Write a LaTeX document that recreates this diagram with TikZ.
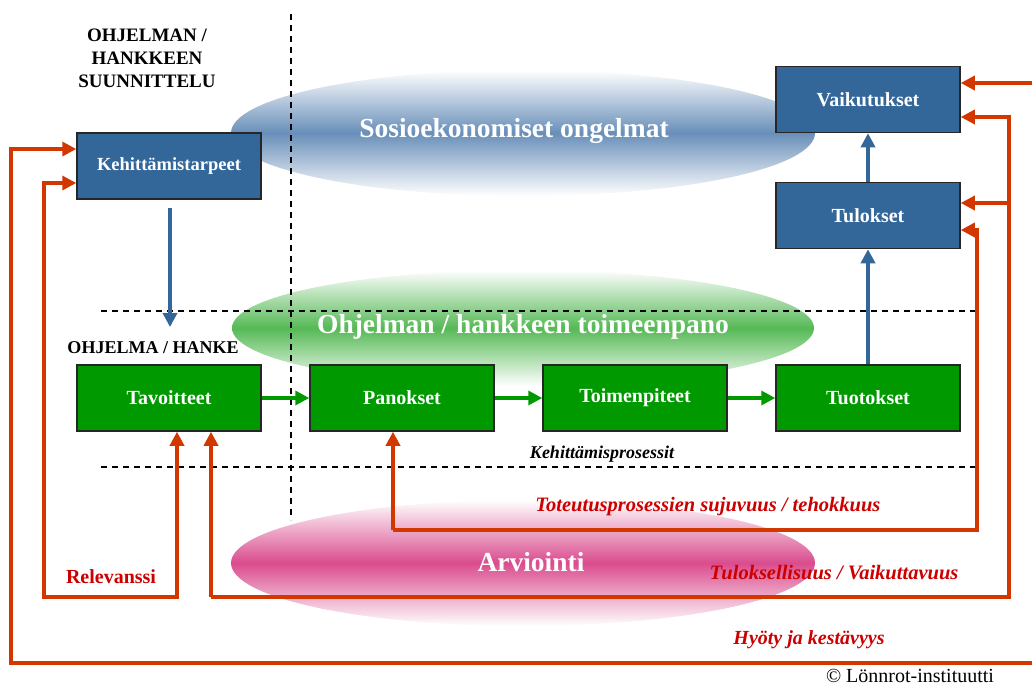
\documentclass[tikz,border=0pt]{standalone}
\usepackage{fontspec}
\setmainfont{Liberation Serif}
\usetikzlibrary{arrows.meta}
\definecolor{boxblue}{RGB}{51,102,153}
\definecolor{boxgreen}{RGB}{0,153,0}
\definecolor{linered}{RGB}{210,55,0}
\definecolor{textred}{RGB}{204,0,0}
\definecolor{ellblue}{RGB}{105,143,185}
\definecolor{ellgreen}{RGB}{85,185,85}
\definecolor{ellpink}{RGB}{218,76,142}
\tikzset{
  bluebox/.style={draw=black!85,line width=1.5pt,fill=boxblue,minimum width=184pt,minimum height=66pt,inner sep=0pt,text=white,font=\fontsize{20}{24}\selectfont\bfseries},
  greenbox/.style={bluebox,fill=boxgreen},
  bluearrow/.style={draw=boxblue,line width=3.4pt,-{Triangle[length=14pt,width=14pt]}},
  greenarrow/.style={draw=boxgreen,line width=3.4pt,-{Triangle[length=14pt,width=14pt]}},
  redarrow/.style={draw=linered,line width=3.4pt,-{Triangle[length=14pt,width=14pt]}},
  redboth/.style={draw=linered,line width=3.4pt,{Triangle[length=14pt,width=14pt]}-{Triangle[length=14pt,width=14pt]}},
  sepline/.style={draw=black,line width=1.4pt,dash pattern=on 6pt off 5pt},
  elltext/.style={text=white,font=\fontsize{27.5}{30}\selectfont\bfseries},
  redlabel/.style={text=textred,font=\fontsize{20.5}{23}\selectfont\bfseries\itshape},
  headlabel/.style={text=black,font=\fontsize{19}{23}\selectfont\bfseries,align=center},
}
\begin{document}
\begin{tikzpicture}[x=1pt,y=-1pt]
\useasboundingbox (0,0) rectangle (1032,686);
% ellipses
\shade[top color=white,bottom color=white,middle color=ellblue] (523,133) ellipse [x radius=292,y radius=63];
\shade[top color=white,bottom color=white,middle color=ellgreen] (523,328) ellipse [x radius=291,y radius=58];
\shade[top color=white,bottom color=white,middle color=ellpink] (523,563) ellipse [x radius=292,y radius=63];
\node[elltext] (socio) at (514,131) {Sosioekonomiset ongelmat};
\node[elltext] (toimeen) at (523,327) {Ohjelman / hankkeen toimeenpano};
\node[elltext] (arv) at (531,562) {Arviointi};
% separators
\coordinate (vtop) at (291,14);
\coordinate (vbot) at (291,520);
\draw[sepline] (vtop) -- (vbot);
\coordinate (h1a) at (101,311);
\coordinate (h1b) at (975,311);
\coordinate (h2a) at (101,467);
\coordinate (h2b) at (975,467);
\draw[sepline] (h1a) -- (h1b);
\draw[sepline] (h2a) -- (h2b);
% labels
\node[headlabel] (title) at (147,58) {OHJELMAN /\\HANKKEEN\\SUUNNITTELU};
\node[headlabel,font=\fontsize{18}{22}\selectfont\bfseries] (hanke) at (153,348) {OHJELMA / HANKE};
\node[font=\fontsize{18}{20}\selectfont\bfseries\itshape] (kproc) at (602,454) {Kehittämisprosessit};
% boxes
\node[bluebox,font=\fontsize{18.5}{22}\selectfont\bfseries] (keh) at (169,166) {Kehittämistarpeet};
\node[greenbox] (tav) at (169,398) {Tavoitteet};
\node[greenbox] (pan) at (402,398) {Panokset};
\node[greenbox] (toi) at (635,398) {Toimenpiteet};
\node[greenbox] (tuo) at (868,398) {Tuotokset};
\node[bluebox] (tul) at (868,215.5) {Tulokset};
\node[bluebox] (vai) at (868,99.5) {Vaikutukset};
% blue and green arrows
\coordinate (kehA) at (170,208);
\coordinate (kehB) at (170,327);
\draw[bluearrow] (kehA) -- (kehB);
\draw[greenarrow] (tav) -- (pan);
\draw[greenarrow] (pan) -- (toi);
\draw[greenarrow] (toi) -- (tuo);
\draw[bluearrow] (tuo) -- (tul);
\draw[bluearrow] (tul) -- (vai);
% red feedback lines
\coordinate (rtop) at (1034,83);
\coordinate (obr) at (1034,663);
\coordinate (obl) at (11,663);
\coordinate (otl) at (11,149);
\draw[redarrow] (rtop) -- (rtop -| vai.east);
\draw[redarrow] (obr) -- (obl) -- (otl) -- (otl -| keh.west);
% relevanssi loop
\coordinate (r1) at (177,597);
\coordinate (r2) at (44,597);
\coordinate (r3) at (44,183);
\draw[redboth] (r1 |- tav.south) -- (r1) -- (r2) -- (r3) -- (r3 -| keh.west);
% tuloksellisuus loop
\coordinate (t1) at (211,597);
\coordinate (t2) at (1009,597);
\coordinate (t3) at (1009,117);
\coordinate (t4) at (1009,203);
\draw[redarrow] (t1) -- (t1 |- tav.south);
\draw[redarrow] (t1) -- (t2) -- (t3) -- (t3 -| vai.east);
\draw[redarrow] (t4) -- (t4 -| tul.east);
% toteutus loop
\coordinate (p1) at (393,530);
\coordinate (p2) at (977,530);
\coordinate (p3) at (977,230);
\draw[redarrow] (p1) -- (p1 |- pan.south);
\draw[redarrow] (p1) -- (p2) -- (p3) -- (p3 -| tul.east);
% red labels
\node[redlabel,anchor=east] (tot) at (884,507) {Toteutusprosessien sujuvuus / tehokkuus};
\node[redlabel,font=\fontsize{20}{22}\selectfont\bfseries] (rel) at (111,577) {Relevanssi};
\node[redlabel] (tulv) at (834,573) {Tuloksellisuus / Vaikuttavuus};
\node[redlabel,font=\fontsize{20}{22}\selectfont\bfseries\itshape] (hyo) at (809,640) {Hyöty ja kestävyys};
\node[font=\fontsize{20}{22}\selectfont,inner sep=0pt,anchor=base] (copy) at (910,682) {© Lönnrot-instituutti};
\end{tikzpicture}
\end{document}
